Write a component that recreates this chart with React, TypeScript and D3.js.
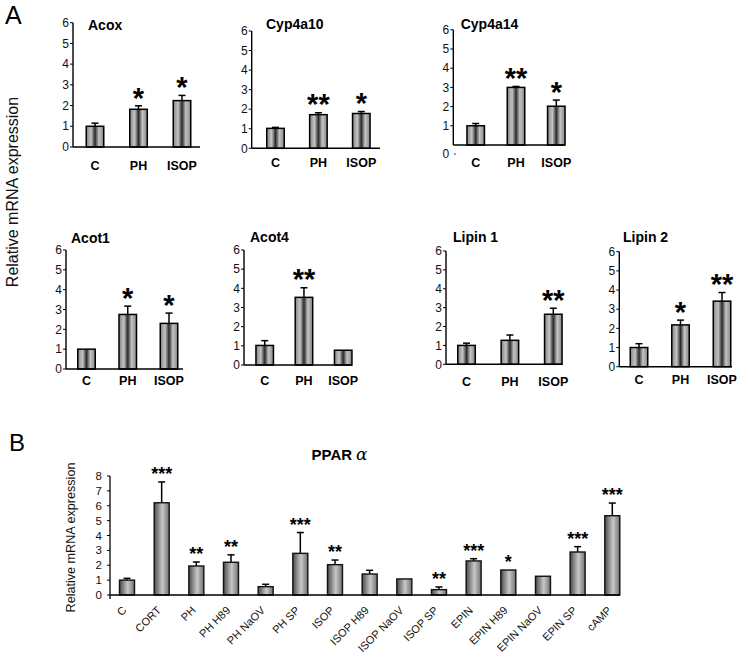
import React from "react";
import * as d3 from "d3";

// ---------- DATA ----------
const categoriesA = ["C", "PH", "ISOP"];
const yTicksA = [0, 1, 2, 3, 4, 5, 6];

const acoxMean = [1.0, 1.82, 2.24];
const acoxErr = [0.15, 0.17, 0.25];
const acoxStars = ["", "*", "*"];

const cyp4a10Mean = [1.02, 1.72, 1.78];
const cyp4a10Err = [0.05, 0.1, 0.1];
const cyp4a10Stars = ["", "**", "*"];

const cyp4a14Mean = [1.0, 3.0, 2.02];
const cyp4a14Err = [0.12, 0.05, 0.32];
const cyp4a14Stars = ["", "**", "*"];

const acot1Mean = [1.0, 2.75, 2.3];
const acot1Err = [0, 0.42, 0.52];
const acot1Stars = ["", "*", "*"];

const acot4Mean = [1.02, 3.53, 0.77];
const acot4Err = [0.25, 0.5, 0];
const acot4Stars = ["", "**", ""];

const lipin1Mean = [1.0, 1.27, 2.65];
const lipin1Err = [0.12, 0.28, 0.32];
const lipin1Stars = ["", "", "**"];

const lipin2Mean = [1.0, 2.18, 3.42];
const lipin2Err = [0.2, 0.25, 0.45];
const lipin2Stars = ["", "*", "**"];

const categoriesB = [
  "C", "CORT", "PH", "PH H89", "PH NaOV", "PH SP", "ISOP", "ISOP H89",
  "ISOP NaOV", "ISOP SP", "EPIN", "EPIN H89", "EPIN NaOV", "EPIN SP", "cAMP",
];
const meanB = [1.0, 6.2, 1.95, 2.2, 0.56, 2.8, 2.04, 1.41, 1.08, 0.36, 2.29, 1.68, 1.26, 2.89, 5.33];
const errB = [0.12, 1.4, 0.27, 0.5, 0.16, 1.4, 0.31, 0.25, 0, 0.18, 0.15, 0, 0, 0.36, 0.85];
const starsB = ["", "***", "**", "**", "", "***", "**", "", "", "**", "***", "*", "", "***", "***"];
const yTicksB = [0, 1, 2, 3, 4, 5, 6, 7, 8];

// ---------- LAYOUT ----------
const FONT = "'Liberation Sans', Arial, Helvetica, sans-serif";

const panelsA = [
  { title: "Acox", mean: acoxMean, err: acoxErr, stars: acoxStars,
    axisX: 73, y0: 147, yTop: 22.7, xEnd: 200, c0: 95, c2: 182, titleX: 88, titleY: 30, labelY: 170, zeroOff: 0 },
  { title: "Cyp4a10", mean: cyp4a10Mean, err: cyp4a10Err, stars: cyp4a10Stars,
    axisX: 251.7, y0: 148.3, yTop: 31, xEnd: 380, c0: 275.5, c2: 361.3, titleX: 266, titleY: 28.5, labelY: 167, zeroOff: 0 },
  { title: "Cyp4a14", mean: cyp4a14Mean, err: cyp4a14Err, stars: cyp4a14Stars,
    axisX: 453.3, y0: 145, yTop: 29.8, xEnd: 565, c0: 475.7, c2: 556.3, titleX: 460.7, titleY: 29, labelY: 167, zeroOff: 9 },
  { title: "Acot1", mean: acot1Mean, err: acot1Err, stars: acot1Stars,
    axisX: 66, y0: 369, yTop: 250, xEnd: 183, c0: 86.5, c2: 169, titleX: 71, titleY: 243, labelY: 384.5, zeroOff: 0 },
  { title: "Acot4", mean: acot4Mean, err: acot4Err, stars: acot4Stars,
    axisX: 244, y0: 365, yTop: 250, xEnd: 352, c0: 264.7, c2: 343.2, titleX: 250, titleY: 241.5, labelY: 385, zeroOff: 0 },
  { title: "Lipin 1", mean: lipin1Mean, err: lipin1Err, stars: lipin1Stars,
    axisX: 446, y0: 364.3, yTop: 251, xEnd: 562.5, c0: 466.5, c2: 553.3, titleX: 453, titleY: 242, labelY: 386, zeroOff: 0 },
  { title: "Lipin 2", mean: lipin2Mean, err: lipin2Err, stars: lipin2Stars,
    axisX: 619.3, y0: 366.7, yTop: 251.7, xEnd: 732, c0: 639, c2: 722, titleX: 623, titleY: 241.7, labelY: 383.5, zeroOff: 0 },
];

const layoutB = { axisX: 110, y0: 595, yTop: 476, xEnd: 620, c0: 127, cN: 612.3 };

function yTicks(p: any, y: any) {
  return yTicksA.map((t) => {
    const off = t === 0 ? p.zeroOff : 0;
    const ty = y(t) + off;
    return (
      <g key={t}>
        {off === 0 ? (
          <line x1={p.axisX - 3} x2={p.axisX} y1={ty} y2={ty} stroke="#000" strokeWidth={1} />
        ) : (
          <line x1={p.axisX + 1} x2={p.axisX + 2.5} y1={ty} y2={ty} stroke="#000" strokeWidth={1.2} />
        )}
        <text x={p.axisX - 4} y={ty} dy="0.35em" textAnchor="end" fontSize={12} fontFamily={FONT} fill="#111">{t}</text>
      </g>
    );
  });
}

function PanelA({ p }: any) {
  const y = d3.scaleLinear().domain([0, 6]).range([p.y0, p.yTop]);
  const x = d3.scalePoint<string>().domain(categoriesA).range([p.c0, p.c2]);
  const bw = 17.5;
  const starFs = 29;
  return (
    <g>
      <text x={p.titleX} y={p.titleY} fontSize={14} fontWeight="bold" fontFamily={FONT}>{p.title}</text>
      {categoriesA.map((c, i) => {
        const cx = x(c)!;
        const top = y(p.mean[i]);
        const et = y(p.mean[i] + p.err[i]);
        return (
          <g key={c}>
            {p.err[i] > 0 && (
              <g stroke="#000" strokeWidth={1.5}>
                <line x1={cx} x2={cx} y1={top} y2={et} />
                <line x1={cx - 3.5} x2={cx + 3.5} y1={et} y2={et} />
              </g>
            )}
            <rect x={cx - bw / 2} y={top} width={bw} height={p.y0 - top} fill="url(#gradA)" stroke="#000" strokeWidth={1.5} />
            {p.stars[i] && (
              <text x={cx} y={et - 14.5 + 0.56 * starFs} textAnchor="middle" fontSize={starFs} fontWeight="bold" fontFamily={FONT}>{p.stars[i]}</text>
            )}
            <text x={cx} y={p.labelY} textAnchor="middle" fontSize={12.5} fontWeight="bold" fontFamily={FONT}>{c}</text>
          </g>
        );
      })}
      <line x1={p.axisX} x2={p.axisX} y1={p.yTop} y2={p.y0} stroke="#000" strokeWidth={1.4} />
      <line x1={p.axisX} x2={p.xEnd} y1={p.y0} y2={p.y0} stroke="#000" strokeWidth={1.6} />
      {yTicks(p, y)}
    </g>
  );
}

function PanelB() {
  const L = layoutB;
  const y = d3.scaleLinear().domain([0, 8]).range([L.y0, L.yTop]);
  const x = d3.scalePoint<string>().domain(categoriesB).range([L.c0, L.cN]);
  const bw = 15;
  const sfs = 18;
  return (
    <g>
      <text x={311.5} y={459.5} fontSize={15} fontWeight="bold" fontFamily={FONT}>
        PPAR
        <tspan dx={4} fontStyle="italic" fontWeight="normal" fontSize={17} fontFamily="'DejaVu Serif', serif">α</tspan>
      </text>
      {categoriesB.map((c, i) => {
        const cx = x(c)!;
        const top = y(meanB[i]);
        const et = y(meanB[i] + errB[i]);
        return (
          <g key={c}>
            {errB[i] > 0 && (
              <g stroke="#000" strokeWidth={1.5}>
                <line x1={cx} x2={cx} y1={top} y2={et} />
                <line x1={cx - 3.5} x2={cx + 3.5} y1={et} y2={et} />
              </g>
            )}
            <rect x={cx - bw / 2} y={top} width={bw} height={L.y0 - top} fill="url(#gradB)" stroke="#111" strokeWidth={1.4} />
            {starsB[i] && (
              <text x={cx} y={et - 12 + 0.56 * sfs} textAnchor="middle" fontSize={sfs} fontWeight="bold" fontFamily={FONT}>{starsB[i]}</text>
            )}
            <text transform={`translate(${cx},${L.y0 + 16}) rotate(-45)`} textAnchor="end" fontSize={11} fontFamily={FONT} fill="#111">{c}</text>
          </g>
        );
      })}
      <line x1={L.axisX} x2={L.axisX} y1={L.yTop} y2={L.y0 + 4} stroke="#000" strokeWidth={1.3} />
      <line x1={L.axisX} x2={L.xEnd} y1={L.y0} y2={L.y0} stroke="#000" strokeWidth={1.6} />
      {yTicksB.map((t) => (
        <g key={t}>
          <line x1={L.axisX - 3} x2={L.axisX} y1={y(t)} y2={y(t)} stroke="#000" strokeWidth={1} />
          <text x={L.axisX - 8} y={y(t)} dy="0.35em" textAnchor="end" fontSize={11.5} fontFamily={FONT} fill="#111">{t}</text>
        </g>
      ))}
      <text transform="translate(75,537.5) rotate(-90)" textAnchor="middle" fontSize={12.6} fontFamily={FONT} fill="#111">Relative mRNA expression</text>
    </g>
  );
}

export default function App() {
  return (
    <svg width={748} height={658} style={{ position: "absolute", left: 0, top: 0, background: "#fff" }}>
      <defs>
        <linearGradient id="gradA" x1="0" x2="1" y1="0" y2="0">
          <stop offset="0" stopColor="#858585" />
          <stop offset="0.28" stopColor="#c4c4c4" />
          <stop offset="0.5" stopColor="#2a2a2a" />
          <stop offset="0.72" stopColor="#c4c4c4" />
          <stop offset="1" stopColor="#858585" />
        </linearGradient>
        <linearGradient id="gradB" x1="0" x2="1" y1="0" y2="0">
          <stop offset="0" stopColor="#4a4a4a" />
          <stop offset="0.55" stopColor="#c8c8c8" />
          <stop offset="1" stopColor="#707070" />
        </linearGradient>
      </defs>
      <rect width={748} height={658} fill="#fff" />
      <text x={5} y={24} fontSize={25} fontFamily={FONT}>A</text>
      <text x={9} y={451} fontSize={24} fontFamily={FONT}>B</text>
      <text transform="translate(17.5,192) rotate(-90)" textAnchor="middle" fontSize={16} fontFamily={FONT} fill="#111">Relative mRNA expression</text>
      {panelsA.map((p) => <PanelA key={p.title} p={p} />)}
      <PanelB />
    </svg>
  );
}
